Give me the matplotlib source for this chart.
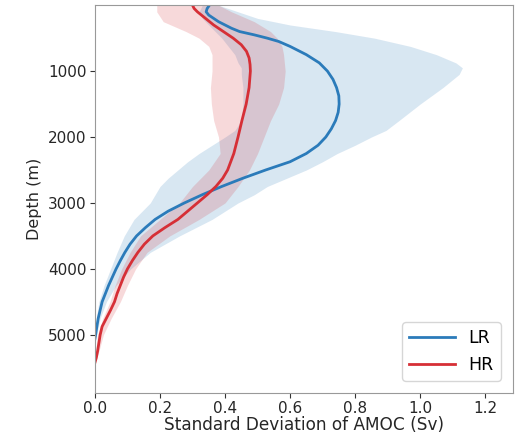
import numpy as np
from matplotlib import pyplot as plt

# low resolution run (LR): ensemble mean profile
lr_depth = [0, 50, 100, 150, 200, 250, 300, 350, 400, 450, 500, 550, 625, 750, 875,
            1000, 1125, 1250, 1375, 1500, 1625, 1750, 1875, 2000, 2125, 2250, 2375,
            2500, 2625, 2750, 2875, 3000, 3125, 3250, 3375, 3500, 3625, 3750, 3875,
            4000, 4250, 4500, 4750, 4900, 5000, 5060]
lr_mean = [0.352, 0.345, 0.342, 0.35, 0.365, 0.38, 0.40, 0.42, 0.445, 0.49, 0.53, 0.565,
           0.60, 0.65, 0.69, 0.715, 0.732, 0.743, 0.75, 0.751, 0.748, 0.74, 0.727, 0.71,
           0.686, 0.65, 0.60, 0.525, 0.455, 0.39, 0.33, 0.275, 0.225, 0.185, 0.155,
           0.128, 0.108, 0.092, 0.078, 0.065, 0.042, 0.022, 0.01, 0.005, 0.002, 0.0]

# LR ensemble spread (min / max)
lr_band_depth = [0, 100, 200, 300, 400, 500, 625, 750, 875, 950, 1050, 1250, 1500,
                 1750, 1900, 2000, 2125, 2250, 2375, 2500, 2625, 2750, 2875, 3000,
                 3250, 3500, 3750, 4000, 4250, 4500, 4750, 5000, 5060]
lr_min = [0.33, 0.32, 0.33, 0.35, 0.37, 0.39, 0.41, 0.43, 0.44, 0.45, 0.45, 0.455, 0.455,
          0.45, 0.43, 0.40, 0.36, 0.32, 0.285, 0.255, 0.225, 0.20, 0.185, 0.17,
          0.12, 0.09, 0.068, 0.048, 0.028, 0.012, 0.004, 0.0, 0.0]
lr_max = [0.38, 0.44, 0.50, 0.60, 0.74, 0.86, 0.97, 1.05, 1.11, 1.13, 1.12, 1.07, 1.0,
          0.935, 0.895, 0.85, 0.80, 0.745, 0.70, 0.65, 0.59, 0.53, 0.49, 0.44,
          0.36, 0.26, 0.17, 0.11, 0.065, 0.035, 0.016, 0.005, 0.0]

# high resolution run (HR): ensemble mean profile
hr_depth = [0, 50, 100, 200, 300, 400, 500, 600, 700, 800, 900, 1000, 1250, 1500,
            1750, 2000, 2250, 2500, 2625, 2750, 2875, 3000, 3125, 3250, 3375, 3500,
            3625, 3750, 3875, 4000, 4125, 4250, 4375, 4500, 4625, 4750, 4875, 5000,
            5125, 5250, 5350, 5420]
hr_mean = [0.30, 0.305, 0.315, 0.34, 0.365, 0.395, 0.425, 0.45, 0.466, 0.474, 0.477,
           0.478, 0.474, 0.465, 0.452, 0.44, 0.427, 0.408, 0.393, 0.372, 0.345, 0.315,
           0.285, 0.255, 0.215, 0.178, 0.152, 0.132, 0.115, 0.10, 0.088, 0.078, 0.068,
           0.06, 0.048, 0.035, 0.022, 0.016, 0.012, 0.008, 0.004, 0.0]

# HR ensemble spread (min / max)
hr_band_depth = [0, 100, 250, 400, 500, 625, 750, 1000, 1250, 1500, 1750, 2000, 2250,
                 2500, 2750, 3000, 3250, 3500, 3750, 4000, 4250, 4500, 4750, 5000,
                 5250, 5420]
hr_min = [0.19, 0.19, 0.21, 0.28, 0.32, 0.35, 0.36, 0.36, 0.355, 0.358, 0.365, 0.38,
          0.385, 0.35, 0.30, 0.26, 0.20, 0.14, 0.108, 0.082, 0.062, 0.046, 0.024,
          0.008, 0.002, 0.0]
hr_max = [0.38, 0.42, 0.49, 0.54, 0.56, 0.575, 0.58, 0.585, 0.58, 0.565, 0.54, 0.52,
          0.50, 0.475, 0.44, 0.40, 0.32, 0.23, 0.16, 0.125, 0.10, 0.078, 0.05, 0.026,
          0.012, 0.0]

LR_COLOUR = '#2b7bba'
HR_COLOUR = '#d62f36'

fig = plt.figure(figsize=(5.19, 4.34), dpi=100)
ax = fig.add_axes([0.183, 0.095, 0.805, 0.893])

ax.fill_betweenx(lr_band_depth, lr_min, lr_max, color=LR_COLOUR, alpha=0.18, linewidth=0)
ax.fill_betweenx(hr_band_depth, hr_min, hr_max, color=HR_COLOUR, alpha=0.18, linewidth=0)
ax.plot(lr_mean, lr_depth, color=LR_COLOUR, lw=2, label='LR')
ax.plot(hr_mean, hr_depth, color=HR_COLOUR, lw=2, label='HR')

ax.set_xlim(0, 1.285)
ax.set_ylim(5880, 0)
ax.set_xticks(np.arange(0, 1.21, 0.2))
ax.set_yticks([1000, 2000, 3000, 4000, 5000])
ax.tick_params(labelsize=11, colors='0.2', labelcolor='0.15', pad=2.5)
for spine in ax.spines.values():
    spine.set_color('0.6')

ax.set_xlabel('Standard Deviation of AMOC (Sv)', fontsize=12.2, color='0.15', labelpad=0)
ax.set_ylabel('Depth (m)', fontsize=11.5, color='0.15')
ax.legend(loc='lower right', fontsize=12.5, handlelength=2.6, borderaxespad=0.7)

fig.savefig('out.png', dpi=100)
